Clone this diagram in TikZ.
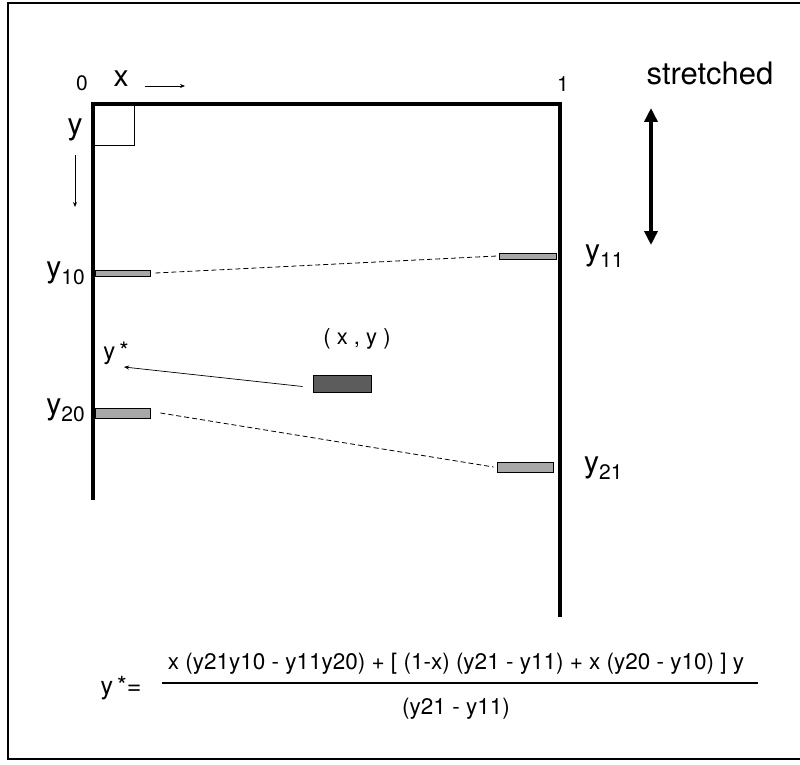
\documentclass[tikz,border=0pt]{standalone}
\usepackage{fontspec}
\setmainfont{TeX Gyre Heros}
\usetikzlibrary{arrows.meta}
\definecolor{barfill}{HTML}{A8A8A8}
\definecolor{ptfill}{HTML}{5C5C5C}
\newcommand{\idx}[1]{\raisebox{-0.45ex}{\fontsize{21}{21}\selectfont #1}}

\begin{document}
\begin{tikzpicture}[x=1pt, y=-1pt,
  axis/.style={line width=4.6pt},
  tickbar/.style={draw=black, line width=0.9pt, fill=barfill, inner sep=0pt},
  lbl/.style={inner sep=0pt, font=\fontsize{30}{30}\selectfont},
  thinarrow/.style={-{Stealth[length=5pt, width=4pt]}, line width=0.7pt}]
  \useasboundingbox (0,0) rectangle (800,765);
  \draw[line width=1.1pt] (806,3) -- (8,3) -- (8,759) -- (806,759);

  % frame of the unit cell
  \coordinate (bl) at (93,498);
  \coordinate (tl) at (93,104);
  \coordinate (tr) at (560,104);
  \coordinate (br) at (560,615);
  \draw[axis, line cap=rect] (bl) -- (tl) -- (tr) -- (br);
  \draw[line width=1pt] (93,145) -| (134,104);

  \node[inner sep=0pt, font=\fontsize{21}{21}\selectfont] (zero) at (82,83) {0};
  \node[lbl] (xlab) at (121,79) {x};
  \coordinate (xa) at (145,86);
  \coordinate (xb) at (185,86);
  \draw[thinarrow] (xa) -- (xb);
  \node[inner sep=0pt, font=\fontsize{21}{21}\selectfont] (one) at (563,84) {1};
  \node[lbl] (ylab) at (75,130) {y};
  \coordinate (ya) at (75,155);
  \coordinate (yb) at (75,207);
  \draw[thinarrow] (ya) -- (yb);

  \node[inner sep=0pt, font=\fontsize{31}{31}\selectfont] (str) at (710,73) {stretched};
  \coordinate (sa) at (651,108);
  \coordinate (sb) at (651,245);
  \draw[line width=4pt, {Triangle[length=14pt, width=13pt]}-{Triangle[length=14pt, width=13pt]}] (sa) -- (sb);

  % reference bars on both sides
  \node[tickbar, minimum width=55pt, minimum height=6pt] (b10) at (122.5,273) {};
  \node[tickbar, minimum width=57pt, minimum height=6pt] (b11) at (528,256) {};
  \node[tickbar, minimum width=55pt, minimum height=10pt] (b20) at (122.5,413) {};
  \node[tickbar, minimum width=56pt, minimum height=10pt] (b21) at (525,467) {};
  \draw[dashed, dash pattern=on 5pt off 3pt, line width=0.8pt] ([xshift=5pt]b10.east) -- ([xshift=-2pt]b11.west);
  \draw[dashed, dash pattern=on 5pt off 3pt, line width=0.8pt] ([xshift=10pt]b20.east) -- ([xshift=-3pt]b21.west);

  \node[lbl, anchor=east] (l10) at (85,273) {y\idx{10}};
  \node[lbl, anchor=east] (l20) at (85,410) {y\idx{20}};
  \node[lbl, anchor=west] (l11) at (585,256) {y\idx{11}};
  \node[lbl, anchor=west] (l21) at (584,468) {y\idx{21}};

  % the point and its mapped position
  \node[draw=black, line width=0.9pt, fill=ptfill, inner sep=0pt, minimum width=58pt, minimum height=17pt] (pt) at (342,383.5) {};
  \node[inner sep=0pt, font=\fontsize{22}{22}\selectfont] (ptlab) at (357,339) {( x , y )};
  \node[inner sep=0pt, font=\fontsize{24}{24}\selectfont] (ystar) at (116,353) {y\,*};
  \coordinate (yend) at (124,367);
  \draw[thinarrow] ([xshift=-10pt,yshift=-3pt]pt.west) -- (yend);

  % interpolation formula
  \node[inner sep=0pt, font=\fontsize{25}{25}\selectfont] (lhs) at (121,688) {y\,*=};
  \coordinate (fa) at (162,683);
  \coordinate (fb) at (758,683);
  \draw[line width=1.2pt] (fa) -- (fb);
  \node[inner sep=0pt, anchor=base, font=\fontsize{22.5}{22.5}\selectfont] (num) at (456,669) {x (y21y10 - y11y20) + [ (1-x) (y21 - y11) + x (y20 - y10) ] y};
  \node[inner sep=0pt, anchor=base, font=\fontsize{22.5}{22.5}\selectfont] (den) at (456,714) {(y21 - y11)};
\end{tikzpicture}
\end{document}
